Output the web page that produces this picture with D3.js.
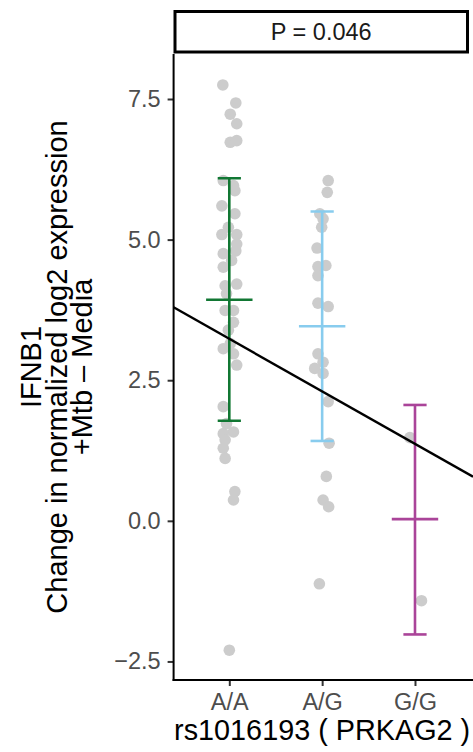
<!DOCTYPE html>
<html>
<head>
<meta charset="utf-8">
<script src="https://cdn.jsdelivr.net/npm/d3@7"></script>
<style>
  html, body { margin: 0; padding: 0; background: #fff; }
  svg { display: block; }
  text { font-family: "Liberation Sans", Arial, Helvetica, sans-serif; }
</style>
</head>
<body>
<svg id="chart" width="473" height="752"></svg>
<script>
// ---------------- data ----------------
const categories = ["A/A", "A/G", "G/G"];
const stripLabel = "P = 0.046";
const xTitle = "rs1016193 ( PRKAG2 )";
const yTitleLines = ["IFNB1", "Change in normalized log2 expression", "+Mtb \u2013 Media"];
const yTicks = [-2.5, 0, 2.5, 5, 7.5];

// individual observations (value) per genotype, with the jitter offset (category units)
const aaValues = [7.75, 7.43, 7.23, 7.06, 6.73, 6.76, 6.05, 5.96, 5.87, 5.60, 5.46, 5.22, 5.09, 5.09,
  4.92, 4.75, 4.80, 4.51, 4.63, 4.18, 4.21, 4.04, 3.74, 3.74, 3.53, 3.39, 3.06, 3.15, 2.97, 2.77,
  2.03, 1.73, 1.58, 1.55, 1.44, 1.29, 1.11, 0.52, 0.37, -2.30];
const aaJitter = [-0.07, 0.07, 0.01, 0.08, 0.01, 0.08, -0.065, 0.045, 0.06, -0.08, 0.06, -0.01, -0.08, 0.08,
  0.08, -0.065, 0.07, -0.065, 0.025, -0.045, 0.08, -0.03, -0.045, 0.045, 0.045, -0.01, -0.065, 0.01, 0.045, 0.08,
  -0.065, -0.03, 0.045, -0.065, -0.045, -0.065, -0.045, 0.06, 0.045, 0.0];
const agValues = [6.05, 5.84, 5.46, 5.37, 5.22, 4.85, 4.52, 4.54, 4.36, 3.87, 3.81, 2.97, 2.82, 2.71,
  2.62, 2.12, 1.38, 0.79, 0.37, 0.25, -1.12];
const agJitter = [0.065, 0.055, -0.025, 0.01, -0.005, -0.055, -0.045, 0.04, -0.045, -0.045, 0.065, -0.045, 0.01, -0.08,
  0.01, 0.065, 0.075, 0.045, 0.01, 0.07, -0.03];
const ggValues = [1.48, -1.42];
const ggJitter = [-0.055, 0.07];

// summary: mean and mean +/- sd per genotype
const means = [3.93, 3.46, 0.03];
const lowers = [1.78, 1.42, -2.02];
const uppers = [6.09, 5.50, 2.06];
const colors = ["#117733", "#88CCEE", "#AA4499"];

// linear fit (genotype coded 1,2,3)
const fitIntercept = 4.17;
const fitSlope = -0.934;

// ---------------- layout ----------------
const svg = d3.select("#chart");
const panel = { left: 173.6, right: 470.7, top: 54, bottom: 680 };
const FONT = "'Liberation Sans', Arial, sans-serif";

const x = d3.scaleLinear().domain([0.4, 3.6]).range([panel.left, panel.right]);
const y = d3.scaleLinear().domain([-2.83, 8.30]).range([panel.bottom, panel.top]);

const points = [];
[[aaValues, aaJitter], [agValues, agJitter], [ggValues, ggJitter]].forEach(([vals, jit], i) => {
  vals.forEach((v, k) => points.push({ g: i + 1 + jit[k], v }));
});

// clip
svg.append("defs").append("clipPath").attr("id", "clip")
  .append("rect").attr("x", panel.left).attr("y", panel.top)
  .attr("width", 473 - panel.left).attr("height", panel.bottom - panel.top);

const plot = svg.append("g").attr("clip-path", "url(#clip)");

// points
plot.selectAll("circle.pt").data(points).enter().append("circle")
  .attr("class", "pt")
  .attr("cx", d => x(d.g)).attr("cy", d => y(d.v))
  .attr("r", 5.8).attr("fill", "#CCCCCC");

// error bars
const eb = categories.map((c, i) => ({ i: i + 1, m: means[i], lo: lowers[i], hi: uppers[i], col: colors[i] }));
const ebG = plot.selectAll("g.eb").data(eb).enter().append("g").attr("class", "eb")
  .attr("stroke", d => d.col).attr("stroke-width", 2.6).attr("fill", "none");
ebG.append("line").attr("x1", d => x(d.i)).attr("x2", d => x(d.i)).attr("y1", d => y(d.lo)).attr("y2", d => y(d.hi));
ebG.append("line").attr("x1", d => x(d.i - 0.125)).attr("x2", d => x(d.i + 0.125)).attr("y1", d => y(d.lo)).attr("y2", d => y(d.lo));
ebG.append("line").attr("x1", d => x(d.i - 0.125)).attr("x2", d => x(d.i + 0.125)).attr("y1", d => y(d.hi)).attr("y2", d => y(d.hi));
ebG.append("line").attr("x1", d => x(d.i - 0.25)).attr("x2", d => x(d.i + 0.25)).attr("y1", d => y(d.m)).attr("y2", d => y(d.m));

// regression line
const xs = [0.4, x.invert(473)];
plot.append("line")
  .attr("x1", x(xs[0])).attr("y1", y(fitIntercept + fitSlope * xs[0]))
  .attr("x2", x(xs[1])).attr("y2", y(fitIntercept + fitSlope * xs[1]))
  .attr("stroke", "#000").attr("stroke-width", 2.4);

// axes
const yAxis = d3.axisLeft(y).tickValues(yTicks).tickSize(6).tickPadding(7)
  .tickFormat(d => d3.format(".1f")(d).replace("-", "\u2212"));
const gy = svg.append("g").attr("transform", `translate(${panel.left},0)`).call(yAxis);
gy.select(".domain").remove();
gy.selectAll(".tick line").attr("stroke", "#333").attr("stroke-width", 2);
gy.selectAll(".tick text").attr("fill", "#4D4D4D").style("font-size", "23.5px").style("font-family", FONT);

const xAxis = d3.axisBottom(x).tickValues([1, 2, 3]).tickSize(6)
  .tickFormat(d => categories[d - 1]);
const gx = svg.append("g").attr("transform", `translate(0,${panel.bottom})`).call(xAxis);
gx.select(".domain").remove();
gx.selectAll(".tick line").attr("stroke", "#333").attr("stroke-width", 2);
gx.selectAll(".tick text").attr("fill", "#4D4D4D").style("font-size", "23.5px").style("font-family", FONT)
  .attr("y", 30).attr("dy", 0);

// axis lines (theme_classic)
svg.append("line").attr("x1", panel.left).attr("x2", panel.left).attr("y1", panel.top).attr("y2", panel.bottom + 1)
  .attr("stroke", "#000").attr("stroke-width", 2);
svg.append("line").attr("x1", panel.left - 1).attr("x2", 473).attr("y1", panel.bottom).attr("y2", panel.bottom)
  .attr("stroke", "#000").attr("stroke-width", 2);

// strip
svg.append("rect").attr("x", 175).attr("y", 11.5).attr("width", 292.5).attr("height", 40.5)
  .attr("fill", "#fff").attr("stroke", "#000").attr("stroke-width", 3);
svg.append("text").attr("x", (175 + 467.5) / 2).attr("y", 32).attr("dy", "0.35em")
  .attr("text-anchor", "middle").attr("fill", "#1A1A1A").style("font-size", "23.5px").text(stripLabel);

// x title
svg.append("text").attr("x", (panel.left + panel.right) / 2).attr("y", 739.5)
  .attr("text-anchor", "middle").attr("fill", "#000").style("font-size", "28.8px").text(xTitle);

// y title
const cy = (panel.top + panel.bottom) / 2;
const lineX = [31, 57, 82];
yTitleLines.forEach((t, i) => {
  svg.append("text").attr("transform", `translate(${lineX[i]},${cy}) rotate(-90)`).attr("dy", "0.35em")
    .attr("text-anchor", "middle").attr("fill", "#000").style("font-size", "29px").text(t);
});
</script>
</body>
</html>
